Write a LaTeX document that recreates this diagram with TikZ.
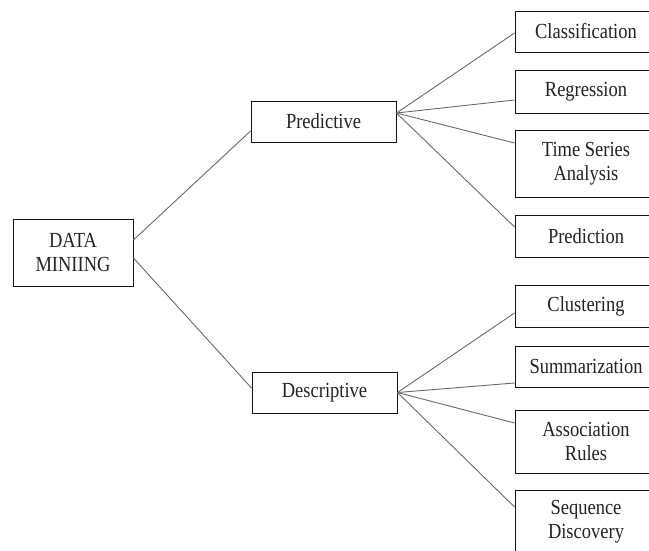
\documentclass[tikz,border=0pt]{standalone}
\usepackage{fontspec}
\setmainfont{Liberation Serif}[FakeStretch=0.86]
\begin{document}
\begin{tikzpicture}[x=1pt,y=-1pt,
  box/.style={draw={rgb,255:red,20;green,20;blue,20},line width=0.95pt,fill=white,align=center,inner sep=0pt,
    text={rgb,255:red,35;green,35;blue,35},font=\fontsize{21.5}{23.5}\selectfont},
  leaf/.style={box,minimum width=142pt},
  link/.style={draw={rgb,255:red,105;green,105;blue,105},line width=0.9pt}]
\useasboundingbox (0,0) rectangle (649,550);
\clip (0,0) rectangle (649,550);
% root and the two branches
\node[box,minimum width=120pt,minimum height=67pt] (dm) at (73,252.5) {DATA\\MINIING};
\node[box,minimum width=145pt,minimum height=41pt] (pred) at (323.5,121.5) {Predictive};
\node[box,minimum width=145pt,minimum height=41pt] (desc) at (324.5,392.5) {Descriptive};
% predictive tasks
\node[leaf,minimum height=41pt] (cls) at (586,31.5) {Classification};
\node[leaf,minimum height=43pt] (reg) at (586,91.5) {Regression};
\node[leaf,minimum height=67pt] (tsa) at (586,163.5) {Time Series\\Analysis};
\node[leaf,minimum height=42pt] (prd) at (586,236) {Prediction};
% descriptive tasks
\node[leaf,minimum height=42pt] (clu) at (586,306) {Clustering};
\node[leaf,minimum height=41pt] (sum) at (586,366.5) {Summarization};
\node[leaf,minimum height=63pt] (asr) at (586,441.5) {Association\\Rules};
\node[leaf,minimum height=63pt] (seq) at (586,521.5) {Sequence\\Discovery};
% connectors
\draw[link] ([yshift=12.5pt]dm.east) -- ([yshift=-9.5pt]pred.west);
\draw[link] ([yshift=-5.5pt]dm.east) -- ([yshift=4.5pt]desc.west);
\draw[link] ([yshift=8.5pt]pred.east) -- ([yshift=-1.5pt]cls.west);
\draw[link] ([yshift=8.5pt]pred.east) -- ([yshift=-8.5pt]reg.west);
\draw[link] ([yshift=8.5pt]pred.east) -- ([yshift=20.5pt]tsa.west);
\draw[link] ([yshift=8.5pt]pred.east) -- ([yshift=9pt]prd.west);
\draw[link] (desc.east) -- ([yshift=-7pt]clu.west);
\draw[link] (desc.east) -- ([yshift=-16.5pt]sum.west);
\draw[link] (desc.east) -- ([yshift=18.5pt]asr.west);
\draw[link] (desc.east) -- ([yshift=14.5pt]seq.west);
\end{tikzpicture}
\end{document}
